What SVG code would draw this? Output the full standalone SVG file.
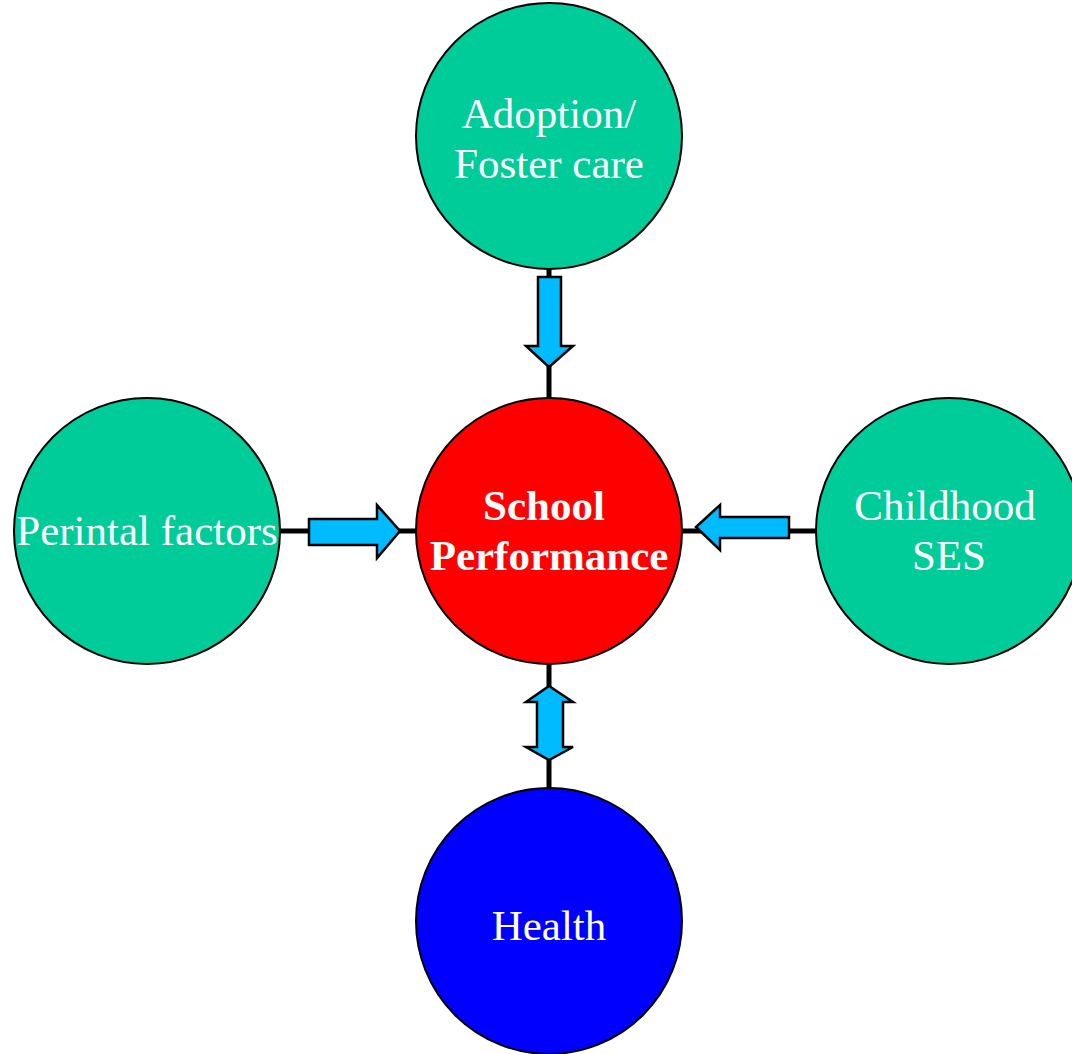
<svg xmlns="http://www.w3.org/2000/svg" width="1072" height="1054" viewBox="0 0 1072 1054">
<style>
.node{stroke:#000;stroke-width:2}
.green{fill:#00CC99}
.lbl{font-family:"Liberation Serif","Times New Roman",serif;font-size:43px;fill:#fff;text-anchor:middle}
.bold{font-weight:bold}
.line{stroke:#000;stroke-width:5;fill:none}
.arrow{fill:#00BBFF;stroke:#000;stroke-width:2.5;stroke-linejoin:miter}
</style>
<rect width="1072" height="1054" fill="#fff"/>
<g id="connectors">
<line class="line" x1="549" y1="268" x2="549" y2="399"/>
<line class="line" x1="279" y1="531" x2="417" y2="531"/>
<line class="line" x1="681" y1="531" x2="817" y2="531"/>
<line class="line" x1="549" y1="662" x2="549" y2="789"/>
<path class="arrow" d="M538,277 H561 V346 H573 L549,367 L526,346 H538 Z"/>
<path class="arrow" d="M309,519 H377 V505 L400,531 L377,558 V545 H309 Z"/>
<path class="arrow" d="M789,517 H720 V505 L696,527 L720,550 V538 H789 Z"/>
<path class="arrow" d="M549,686 L573,702 H563 V747 H573 L549,760 L526,747 H537 V702 H526 Z"/>
</g>
<g id="adoption">
<circle class="node green" cx="549" cy="136" r="133"/>
<text class="lbl" x="549" y="128">Adoption/</text>
<text class="lbl" x="549" y="178">Foster care</text>
</g>
<g id="perinatal">
<circle class="node green" cx="147" cy="531" r="133"/>
<text class="lbl" x="147" y="545">Perintal factors</text>
</g>
<g id="school">
<circle class="node" cx="549" cy="531" r="133" fill="#FF0000"/>
<text class="lbl bold" x="544" y="520">School</text>
<text class="lbl bold" x="549" y="570">Performance</text>
</g>
<g id="childhood">
<circle class="node green" cx="949" cy="531" r="133"/>
<text class="lbl" x="945" y="520">Childhood</text>
<text class="lbl" x="949" y="570">SES</text>
</g>
<g id="health">
<circle class="node" cx="549" cy="921" r="133" fill="#0000FF"/>
<text class="lbl" x="549" y="940">Health</text>
</g>
</svg>
